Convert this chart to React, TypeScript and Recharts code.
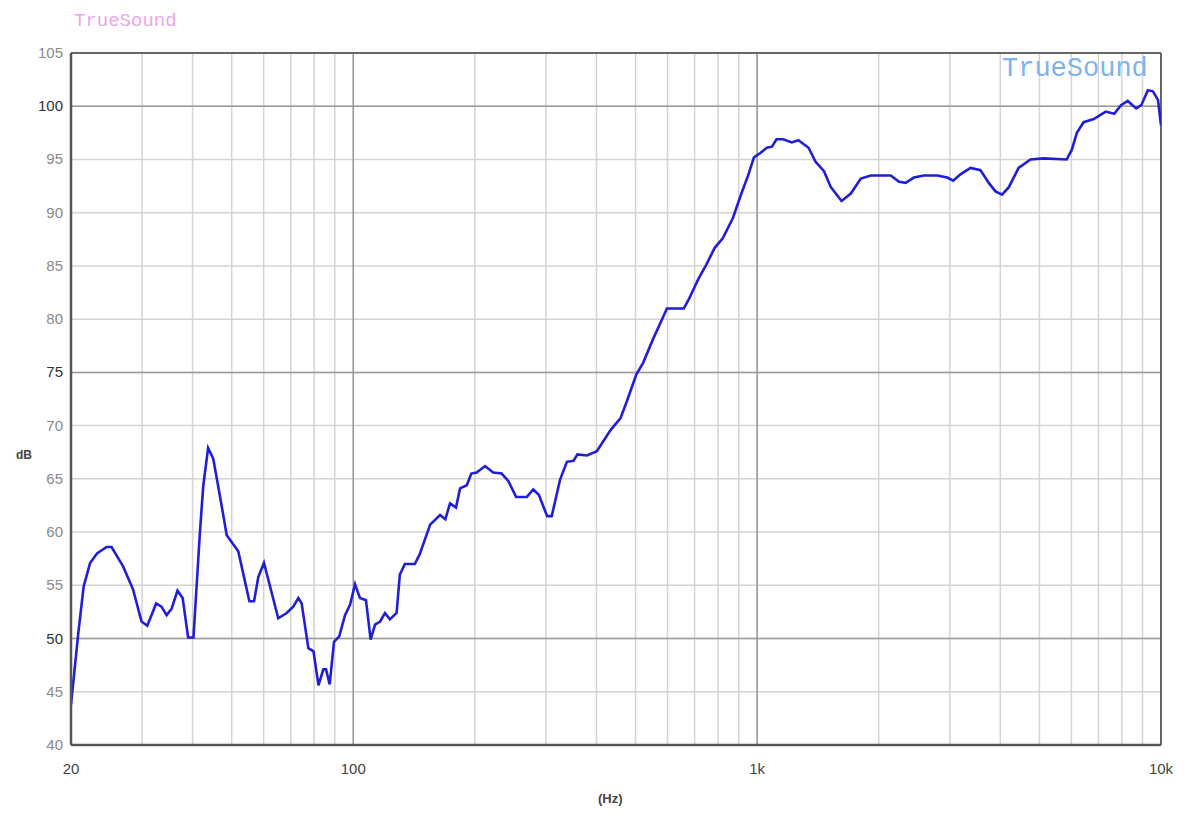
import { LineChart, Line, XAxis, YAxis, CartesianGrid, ReferenceLine } from "recharts";

// frequency response
const freqs = [
  20, 20.85, 21.5, 22.3, 23.2, 24.5, 25.2, 26.9, 28.5, 29.9, 30.9, 32.5, 33.5, 34.5, 35.5, 36.7,
  37.8, 39.0, 40.2, 41.7, 42.5, 43.7, 45.0, 46.8, 48.6, 51.9, 53.4, 55.3, 56.8, 58.2, 60.1, 62.8,
  65.2, 68.4, 71.0, 73.1, 74.5, 77.4, 79.7, 82.0, 84.3, 85.6, 87.4, 89.6, 92.3, 95.4, 98.2, 101,
  103.9, 107.5, 110.4, 113.2, 116.5, 119.8, 123.2, 128, 130.4, 134.2, 142, 146, 155, 164, 169,
  173.6, 179.6, 183.8, 191, 196, 202, 212, 222, 233, 242, 253, 269, 279, 288, 302, 310, 325, 338,
  351, 359, 379, 401, 434, 459, 477, 502, 522, 552, 598, 614, 658, 676, 716, 748, 785, 822, 871,
  914, 950, 982, 1018, 1057, 1088, 1117, 1160, 1218, 1265, 1341, 1394, 1464, 1522, 1618, 1706,
  1806, 1912, 2024, 2142, 2246, 2332, 2444, 2588, 2794, 2956, 3058, 3188, 3376, 3572, 3746, 3892,
  4040, 4200, 4440, 4752, 5120, 5840, 6012, 6190, 6432, 6816, 7296, 7660, 7960, 8272, 8680, 8936,
  9280, 9550, 9830, 10000,
];
const levels = [
  43.8, 50.5, 54.9, 57.1, 58.0, 58.6, 58.6, 56.8, 54.6, 51.6, 51.2, 53.3, 53.0, 52.2, 52.8, 54.5,
  53.8, 50.1, 50.1, 59.9, 64.3, 67.9, 66.9, 63.3, 59.7, 58.2, 56.1, 53.5, 53.5, 55.8, 57.1, 54.3,
  51.9, 52.4, 53.0, 53.8, 53.3, 49.1, 48.8, 45.6, 47.1, 47.1, 45.7, 49.7, 50.2, 52.2, 53.2, 55.1,
  53.8, 53.6, 49.9, 51.3, 51.6, 52.4, 51.8, 52.4, 56.0, 57.0, 57.0, 57.9, 60.7, 61.6, 61.2,
  62.7, 62.3, 64.1, 64.4, 65.5, 65.6, 66.2, 65.6, 65.5, 64.8, 63.3, 63.3, 64.0, 63.5, 61.5, 61.5, 64.9, 66.6,
  66.7, 67.3, 67.2, 67.6, 69.6, 70.7, 72.4, 74.8, 75.9, 78.1, 81.0, 81.0, 81.0, 81.8, 83.8, 85.1, 86.7, 87.6, 89.5,
  91.8, 93.5, 95.2, 95.6, 96.1, 96.2, 96.9, 96.9, 96.6, 96.8, 96.1, 94.8, 93.9, 92.4, 91.1, 91.8,
  93.2, 93.5, 93.5, 93.5, 92.9, 92.8, 93.3, 93.5, 93.5, 93.3, 93.0, 93.6, 94.2, 94.0, 92.8, 92.0,
  91.7, 92.4, 94.2, 95.0, 95.1, 95.0, 95.9, 97.5, 98.5, 98.8, 99.5, 99.3, 100.1, 100.5, 99.8, 100.1,
  101.5, 101.4, 100.6, 98.2,
];

const gridFreqs = [
  20, 30, 40, 50, 60, 70, 80, 90, 100, 200, 300, 400, 500, 600, 700, 800, 900,
  1000, 2000, 3000, 4000, 5000, 6000, 7000, 8000, 9000, 10000,
];
const freqLabels: Record<number, string> = { 20: "20", 100: "100", 1000: "1k", 10000: "10k" };
const dbTicks = [40, 45, 50, 55, 60, 65, 70, 75, 80, 85, 90, 95, 100, 105];
const majorDb = [50, 75, 100];

const data = freqs.map((f, i) => ({ f, db: levels[i] }));

const YTick = (props: any) => {
  const { x, y, payload } = props;
  const major = majorDb.includes(payload.value);
  return (
    <text x={x} y={y} dy={5} textAnchor="end" fontSize={15} fill={major ? "#333" : "#8a8a8a"}
      fontFamily="Liberation Sans, Arial, sans-serif">
      {payload.value}
    </text>
  );
};

export default function App() {
  return (
    <div style={{ position: "relative", width: 1180, height: 800 }}>
      <LineChart
        width={1180}
        height={800}
        data={data}
        margin={{ top: 45, right: 27, left: 0, bottom: 33 }}
      >
        <CartesianGrid stroke="#d4d4d4" strokeWidth={1.5} />
        <XAxis
          dataKey="f"
          type="number"
          scale="log"
          domain={[20, 10000]}
          ticks={gridFreqs}
          interval={0}
          tickFormatter={(v) => freqLabels[v] ?? ""}
          tickLine={false}
          tickSize={0}
          tickMargin={18}
          height={30}
          axisLine={{ stroke: "#555", strokeWidth: 2.5 }}
          tick={{ fontSize: 15, fill: "#444", fontFamily: "Liberation Sans, Arial, sans-serif" }}
          allowDataOverflow
        />
        <YAxis
          type="number"
          domain={[40, 105]}
          ticks={dbTicks}
          interval={0}
          width={63}
          tickLine={false}
          tickSize={0}
          tickMargin={8}
          axisLine={{ stroke: "#555", strokeWidth: 2.5 }}
          tick={<YTick />}
          allowDataOverflow
        />
        {majorDb.map((v) => (
          <ReferenceLine key={v} y={v} stroke="#9a9a9a" strokeWidth={1.5} />
        ))}
        <ReferenceLine x={100} stroke="#9a9a9a" strokeWidth={1.5} />
        <ReferenceLine x={1000} stroke="#9a9a9a" strokeWidth={1.5} />
        <ReferenceLine y={105} stroke="#666" strokeWidth={2} />
        <ReferenceLine x={10000} stroke="#666" strokeWidth={2} />
        <Line
          dataKey="db"
          type="linear"
          stroke="#1f1fd8"
          strokeWidth={2.6}
          dot={false}
          isAnimationActive={false}
        />
      </LineChart>
      <div style={{ position: "absolute", left: 66, top: 2, fontFamily: "Liberation Mono, monospace", fontSize: 19, color: "#eaa6ea" }}>
        TrueSound
      </div>
      <div style={{ position: "absolute", left: 994, top: 46, fontFamily: "Liberation Mono, monospace", fontSize: 27, color: "#7fb2ef" }}>
        TrueSound
      </div>
      <div style={{ position: "absolute", left: 8, top: 440, fontFamily: "Liberation Sans, Arial, sans-serif", fontSize: 12, fontWeight: "bold", color: "#444" }}>
        dB
      </div>
      <div style={{ position: "absolute", left: 590, top: 783, fontFamily: "Liberation Sans, Arial, sans-serif", fontSize: 13, fontWeight: "bold", color: "#444" }}>
        (Hz)
      </div>
    </div>
  );
}
